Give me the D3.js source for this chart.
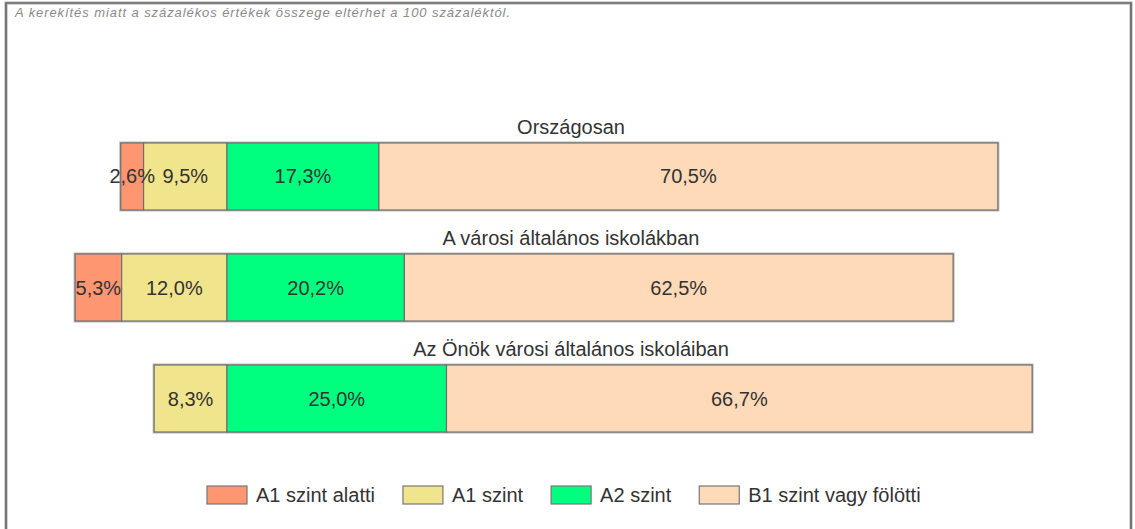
<!DOCTYPE html>
<html>
<head>
<meta charset="utf-8">
<script src="https://cdn.jsdelivr.net/npm/d3@7"></script>
<style>
  html, body { margin: 0; padding: 0; background: #fff; }
  svg { display: block; font-family: "Liberation Sans", Arial, sans-serif; }
</style>
</head>
<body>
<div id="chart"></div>
<script>
// data
const rows = ["Országosan", "A városi általános iskolákban", "Az Önök városi általános iskoláiban"];
const levels = ["A1 szint alatti", "A1 szint", "A2 szint", "B1 szint vagy fölötti"];
const belowA1 = [2.6, 5.3, 0];
const levelA1 = [9.5, 12.0, 8.3];
const levelA2 = [17.3, 20.2, 25.0];
const levelB1 = [70.5, 62.5, 66.7];
const colors = ["#ff9672", "#f0e48c", "#00ff7f", "#ffdab8"];
const note = "A kerekítés miatt a  százalékos értékek összege eltérhet a 100 százaléktól.";

const width = 1135, height = 529;
const origin = 227;          // A1 / A2 boundary
const titleCenter = 571;

const svg = d3.select("#chart").append("svg")
    .attr("width", width)
    .attr("height", height);

// frame
const frame = `M6,${height} V3 H1131 V${height}`;
svg.append("path").attr("d", frame)
    .attr("fill", "none").attr("stroke", "#aaa").attr("stroke-width", 3);
svg.append("path").attr("d", frame)
    .attr("fill", "none").attr("stroke", "#555").attr("stroke-width", 1.2);

svg.append("text")
    .attr("x", 15)
    .attr("y", 17)
    .attr("font-size", 13)
    .attr("font-style", "italic")
    .attr("fill", "#8a8a8a")
    .attr("textLength", 495)
    .attr("lengthAdjust", "spacing")
    .text(note);

const x = d3.scaleLinear().domain([0, 100]).range([0, 878]);
const y = d3.scaleBand().domain(rows).range([99, 476]).padding(0.396);

const table = rows.map((name, i) => {
    const vals = [belowA1[i], levelA1[i], levelA2[i], levelB1[i]];
    let start = -(vals[0] + vals[1]);
    const segs = vals.map((v, k) => {
        const s = { row: name, level: k, value: v, x0: start, x1: start + v };
        start += v;
        return s;
    }).filter(s => s.value > 0);
    return { name, i, segs };
});

const px = v => origin + x(v) - x(0);
const fmt = v => v.toFixed(1).replace(".", ",") + "%";

const g = svg.append("g");

table.forEach(r => {
    const top = y(r.name);
    const bh = y.bandwidth();
    const row = g.append("g");

    row.append("text")
        .attr("x", titleCenter)
        .attr("y", top - 9)
        .attr("text-anchor", "middle")
        .attr("font-size", 20)
        .attr("fill", "#333")
        .text(r.name);

    const left = px(r.segs[0].x0);
    const right = px(r.segs[r.segs.length - 1].x1);

    // soft shadow outline
    row.append("rect")
        .attr("x", left).attr("y", top)
        .attr("width", right - left).attr("height", bh)
        .attr("fill", "none")
        .attr("stroke", "#bbb")
        .attr("stroke-width", 3);

    row.selectAll("rect.seg")
        .data(r.segs)
        .enter().append("rect")
        .attr("class", "seg")
        .attr("x", d => px(d.x0))
        .attr("y", top)
        .attr("width", d => px(d.x1) - px(d.x0))
        .attr("height", bh)
        .attr("fill", d => colors[d.level])
        .attr("stroke", "#6e6e6e")
        .attr("stroke-width", 1.2);

    row.selectAll("text.lbl")
        .data(r.segs)
        .enter().append("text")
        .attr("class", "lbl")
        .attr("x", d => (px(d.x0) + px(d.x1)) / 2)
        .attr("y", top + bh / 2 + 7)
        .attr("text-anchor", "middle")
        .attr("font-size", 20)
        .attr("fill", "#333")
        .text(d => fmt(d.value));
});

// legend
const legend = svg.append("g").attr("transform", "translate(207,486)");
let lx = 0;
levels.forEach((name, k) => {
    const item = legend.append("g").attr("transform", `translate(${lx},0)`);
    item.append("rect")
        .attr("width", 40).attr("height", 18)
        .attr("fill", colors[k])
        .attr("stroke", "#777")
        .attr("stroke-width", 1.2);
    const t = item.append("text")
        .attr("x", 49)
        .attr("y", 16)
        .attr("font-size", 20)
        .attr("fill", "#333")
        .text(name);
    lx += 49 + t.node().getComputedTextLength() + 28;
});
</script>
</body>
</html>
